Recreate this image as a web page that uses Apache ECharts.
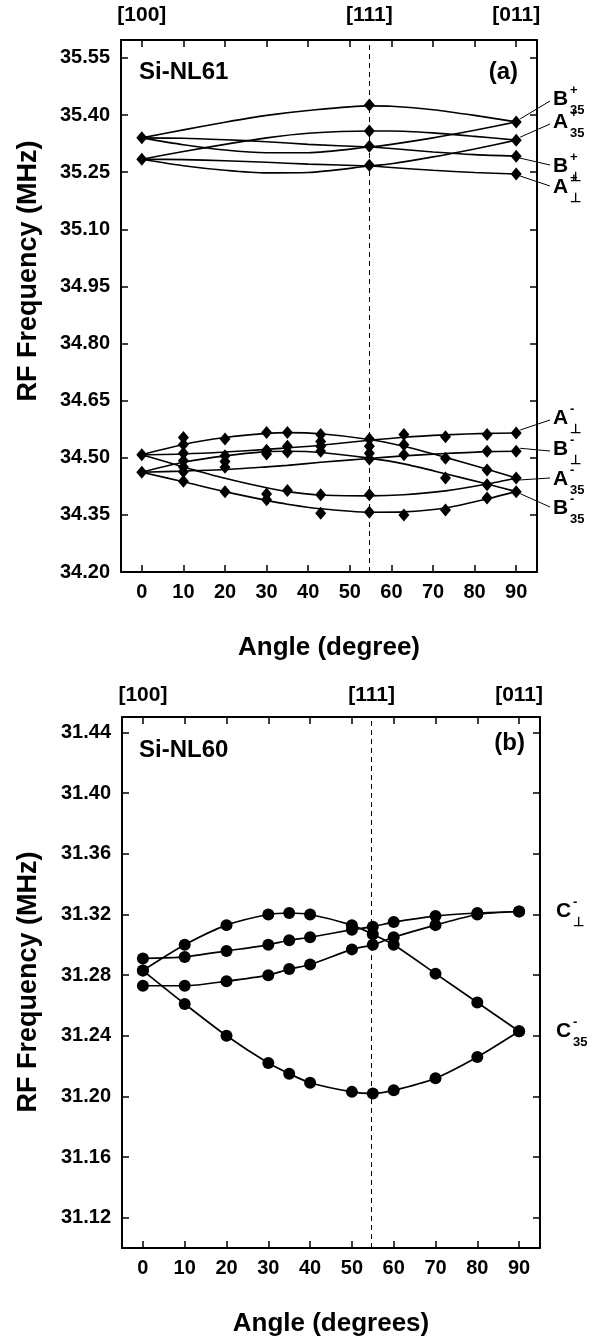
<!DOCTYPE html>
<html><head><meta charset="utf-8">
<script src="https://cdn.jsdelivr.net/npm/echarts@6/dist/echarts.min.js"></script>
<style>html,body{margin:0;padding:0;background:#fff}#c{width:605px;height:1338px}</style>
</head><body><div id="c"></div>
<script>
// ---------- data ----------
const xTicks = [0,10,20,30,40,50,60,70,80,90];
const yTicksA = [34.20,34.35,34.50,34.65,34.80,34.95,35.10,35.25,35.40,35.55];
const yTicksB = [31.12,31.16,31.20,31.24,31.28,31.32,31.36,31.40,31.44];
const dirLabels = ['[100]','[111]','[011]'];
const dirAngles = [0,54.7,90];
const magicAngle = 54.7;

// panel (a) upper group fitted curves
const upAngles = [0,10,20,30,40,54.7,60,70,80,90];
const bPlus1 = [35.340,35.361,35.381,35.399,35.412,35.424,35.423,35.414,35.399,35.382];
const bPlus2 = [35.340,35.322,35.308,35.301,35.301,35.316,35.323,35.340,35.360,35.382];
const bPlus3 = [35.340,35.339,35.335,35.330,35.323,35.316,35.312,35.303,35.296,35.292];
const aPlus1 = [35.284,35.304,35.323,35.340,35.352,35.358,35.358,35.353,35.344,35.334];
const aPlus2 = [35.284,35.267,35.255,35.248,35.249,35.266,35.272,35.290,35.311,35.334];
const aPlus3 = [35.284,35.283,35.280,35.276,35.271,35.266,35.262,35.255,35.249,35.245];

// panel (a) lower group fitted curves
const lowAngles = [0,10,20,30,35,43,54.7,63,73,83,90];
const aMinus1 = [34.508,34.476,34.446,34.421,34.411,34.402,34.400,34.403,34.413,34.431,34.447];
const aMinus2 = [34.508,34.535,34.553,34.564,34.566,34.563,34.548,34.530,34.501,34.470,34.447];
const aMinus3 = [34.508,34.510,34.515,34.522,34.526,34.533,34.546,34.554,34.560,34.564,34.565];
const bMinus1 = [34.462,34.437,34.411,34.388,34.378,34.366,34.357,34.358,34.368,34.392,34.411];
const bMinus2 = [34.462,34.488,34.505,34.516,34.517,34.514,34.499,34.484,34.458,34.431,34.411];
const bMinus3 = [34.462,34.465,34.469,34.476,34.480,34.488,34.498,34.505,34.511,34.516,34.517];

// panel (a) measured points
const markersA = [
  [0,35.340],[0,35.284],[54.7,35.426],[54.7,35.358],[54.7,35.318],[54.7,35.268],
  [90,35.382],[90,35.334],[90,35.292],[90,35.245],
  [0,34.508],[0,34.462],
  [10,34.553],[10,34.535],[10,34.512],[10,34.492],[10,34.476],[10,34.463],[10,34.438],
  [20,34.549],[20,34.505],[20,34.490],[20,34.475],[20,34.411],
  [30,34.566],[30,34.520],[30,34.510],[30,34.405],[30,34.390],
  [35,34.566],[35,34.530],[35,34.515],[35,34.414],
  [43,34.561],[43,34.543],[43,34.530],[43,34.517],[43,34.403],[43,34.354],
  [54.7,34.549],[54.7,34.530],[54.7,34.512],[54.7,34.497],[54.7,34.403],[54.7,34.357],
  [63,34.561],[63,34.534],[63,34.508],[63,34.350],
  [73,34.555],[73,34.499],[73,34.447],[73,34.363],
  [83,34.561],[83,34.517],[83,34.468],[83,34.429],[83,34.394],
  [90,34.565],[90,34.517],[90,34.447],[90,34.411]
];

// panel (b) curves (measured points)
const angB = [0,10,20,30,35,40,50,55,60,70,80,90];
const cArc = [31.283,31.261,31.240,31.222,31.215,31.209,31.203,31.202,31.204,31.212,31.226,31.243];
const cArch = [31.283,31.300,31.313,31.320,31.321,31.320,31.313,31.307,31.300,31.281,31.262,31.243];
const cPerp1 = [31.291,31.292,31.296,31.300,31.303,31.305,31.310,31.312,31.315,31.319,31.321,31.322];
const cPerp2 = [31.273,31.273,31.276,31.280,31.284,31.287,31.297,31.300,31.305,31.313,31.320,31.322];

// right-hand labels
const labMainA = ['B','A','B','A','A','B','A','B'];
const labSupA  = ['+','+','+','+','-','-','-','-'];
const labSubA  = ['35','35','\u22A5','\u22A5','\u22A5','\u22A5','35','35'];
const labMainB = ['C','C'];
const labSupB  = ['-','-'];
const labSubB  = ['\u22A5','35'];

// ---------- chart ----------
const FONT = '"Liberation Sans", Arial, sans-serif';
const chart = echarts.init(document.getElementById('c'), null, {renderer:'canvas', width:605, height:1338});

function xAxisDef(grid, pos, name, topMargin) {
  const ax = {
    type:'value', gridIndex:grid, position:pos, min:-5, max:95,
    axisLine:{show:true, onZero:false, lineStyle:{color:'#000', width:2}},
    axisTick:{show:true, inside:true, length:7, customValues:xTicks, lineStyle:{color:'#000', width:1.5}},
    splitLine:{show:false},
    axisLabel:{show:true, color:'#000', fontFamily:FONT, fontWeight:'bold', fontSize:20}
  };
  if (pos === 'bottom') {
    ax.axisLabel.customValues = xTicks;
    ax.axisLabel.margin = 10;
    ax.axisLabel.formatter = v => String(Math.round(v));
    ax.name = name; ax.nameLocation = 'middle'; ax.nameGap = 63;
    ax.nameTextStyle = {color:'#000', fontFamily:FONT, fontWeight:'bold', fontSize:26};
  } else {
    ax.axisLabel.customValues = dirAngles;
    ax.axisLabel.margin = topMargin;
    ax.axisLabel.fontSize = 21;
    ax.axisLabel.formatter = v => {
      let best = 0;
      dirAngles.forEach((a,i)=>{ if (Math.abs(a-v) < Math.abs(dirAngles[best]-v)) best = i; });
      return dirLabels[best];
    };
  }
  return ax;
}
function yAxisDef(grid, pos, min, max, ticks) {
  return {
    type:'value', gridIndex:grid, position:pos, min:min, max:max,
    axisLine:{show:true, onZero:false, lineStyle:{color:'#000', width:2}},
    axisTick:{show:true, inside:true, length:7, customValues:ticks, lineStyle:{color:'#000', width:1.5}},
    splitLine:{show:false},
    axisLabel:{show:pos==='left', customValues:ticks, margin:11, color:'#000', fontFamily:FONT, fontWeight:'bold', fontSize:20,
      formatter: v => v.toFixed(2)}
  };
}
function fitLine(xi, yi, angles, vals) {
  return {type:'line', xAxisIndex:xi, yAxisIndex:yi, data:angles.map((a,i)=>[a,vals[i]]),
    smooth:0.25, showSymbol:false, symbol:'none',
    lineStyle:{color:'#000', width:1.6}, silent:true, z:2};
}
function measLine(xi, yi, angles, vals) {
  return {type:'line', xAxisIndex:xi, yAxisIndex:yi, data:angles.map((a,i)=>[a,vals[i]]),
    smooth:0.25, showSymbol:true, symbol:'circle', symbolSize:12,
    itemStyle:{color:'#000'}, lineStyle:{color:'#000', width:1.7}, silent:true, z:3};
}
const dashed = {silent:true, symbol:['none','none'], label:{show:false},
  lineStyle:{color:'#000', type:[5,4], width:1}, data:[{xAxis:magicAngle}]};

const series = [
  fitLine(0,0,upAngles,bPlus1), fitLine(0,0,upAngles,bPlus2), fitLine(0,0,upAngles,bPlus3),
  fitLine(0,0,upAngles,aPlus1), fitLine(0,0,upAngles,aPlus2), fitLine(0,0,upAngles,aPlus3),
  fitLine(0,0,lowAngles,aMinus1), fitLine(0,0,lowAngles,aMinus2), fitLine(0,0,lowAngles,aMinus3),
  fitLine(0,0,lowAngles,bMinus1), fitLine(0,0,lowAngles,bMinus2), fitLine(0,0,lowAngles,bMinus3),
  {type:'scatter', xAxisIndex:0, yAxisIndex:0, data:markersA, symbol:'diamond', symbolSize:[11,13],
   itemStyle:{color:'#000', opacity:1}, silent:true, z:4, markLine:dashed},
  measLine(2,2,angB,cArc), measLine(2,2,angB,cArch), measLine(2,2,angB,cPerp1),
  Object.assign(measLine(2,2,angB,cPerp2), {markLine:dashed})
];

chart.setOption({
  animation:false,
  backgroundColor:'#fff',
  grid:[
    {left:121, top:40, width:416, height:532},
    {left:122, top:717, width:418, height:542}
  ],
  xAxis:[
    xAxisDef(0,'bottom','Angle (degree)'),
    xAxisDef(0,'top',null,14),
    xAxisDef(1,'bottom','Angle (degrees)'),
    xAxisDef(1,'top',null,11)
  ],
  yAxis:[
    yAxisDef(0,'left',34.20,35.597,yTicksA),
    yAxisDef(0,'right',34.20,35.597,yTicksA),
    yAxisDef(1,'left',31.10,31.4503,yTicksB),
    yAxisDef(1,'right',31.10,31.4503,yTicksB)
  ],
  series:series
});

// ---------- annotations ----------
function txt(x, y, s, size, align, vAlign, rot) {
  const g = {type:'text', x:x, y:y, silent:true, z:100,
    style:{text:s, fill:'#000', font:'bold '+size+'px '+FONT, align:align||'left', verticalAlign:vAlign||'middle'}};
  if (rot) g.rotation = rot;
  return g;
}
function ln(x1,y1,x2,y2) {
  return {type:'line', silent:true, z:100, shape:{x1:x1,y1:y1,x2:x2,y2:y2}, style:{stroke:'#000', lineWidth:1}};
}
const P = (gi, x, y) => chart.convertToPixel({gridIndex:gi}, [x, y]);
const graphics = [];
graphics.push(txt(29, 271, 'RF Frequency (MHz)', 27, 'center', 'middle', Math.PI/2));
graphics.push(txt(29, 982, 'RF Frequency (MHz)', 27, 'center', 'middle', Math.PI/2));
graphics.push(txt(139, 72, 'Si-NL61', 24, 'left', 'middle'));
graphics.push(txt(518, 72, '(a)', 24, 'right', 'middle'));
graphics.push(txt(139, 750, 'Si-NL60', 24, 'left', 'middle'));
graphics.push(txt(525, 743, '(b)', 24, 'right', 'middle'));

const endA = [bPlus1, aPlus1, bPlus3, aPlus3, aMinus3, bMinus3, aMinus1, bMinus1].map(a => a[a.length-1]);
const labY = [99, 122, 166, 187, 418, 449, 479, 508];
endA.forEach((v, i) => {
  const p = P(0, 90, v);
  const lx = 553, ly = labY[i];
  const up = ly < p[1];
  graphics.push(ln(p[0]+4, p[1] + (up ? -3 : 2), lx-3, ly + (up ? 2 : -1)));
  graphics.push(txt(lx, ly, labMainA[i], 21, 'left', 'middle'));
  graphics.push(txt(lx+17, ly-9, labSupA[i], 13, 'left', 'middle'));
  graphics.push(txt(lx+17, ly+11, labSubA[i], 13, 'left', 'middle'));
});
const endB = [cPerp1, cArc].map(a => a[a.length-1]);
endB.forEach((v, i) => {
  const p = P(1, 90, v);
  const lx = 556, ly = p[1];
  graphics.push(txt(lx, ly, labMainB[i], 21, 'left', 'middle'));
  graphics.push(txt(lx+17, ly-9, labSupB[i], 13, 'left', 'middle'));
  graphics.push(txt(lx+17, ly+11, labSubB[i], 13, 'left', 'middle'));
});
chart.setOption({graphic: graphics});
</script></body></html>
